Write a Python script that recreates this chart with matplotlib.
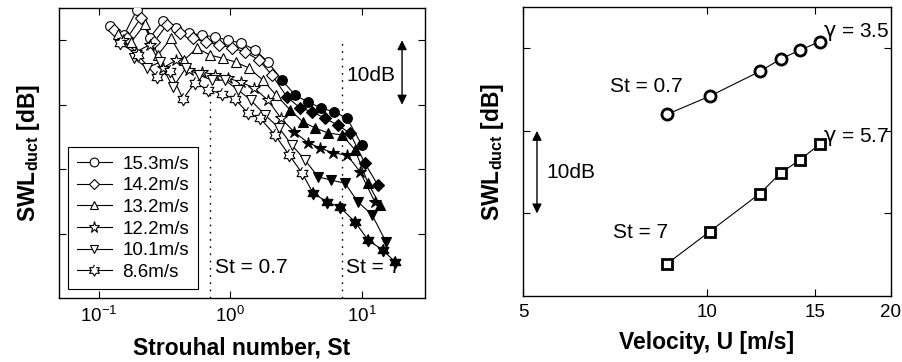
import numpy as np
import matplotlib
matplotlib.use("Agg")
import matplotlib.pyplot as plt
from matplotlib.lines import Line2D
from matplotlib.path import Path
from matplotlib.ticker import FixedLocator, NullLocator, NullFormatter, FixedFormatter

plt.rcParams['font.family'] = ['Liberation Sans', 'DejaVu Sans']
plt.rcParams['mathtext.fontset'] = 'custom'
plt.rcParams['mathtext.rm'] = 'Liberation Sans'
plt.rcParams['mathtext.bf'] = 'Liberation Sans:bold'
plt.rcParams['mathtext.it'] = 'DejaVu Sans'

# ---- left panel: SWL spectra vs Strouhal number, one series per velocity ----
labels = ['15.3m/s', '14.2m/s', '13.2m/s', '12.2m/s', '10.1m/s', '8.6m/s']

st_153 = [0.122, 0.156, 0.195, 0.245, 0.308, 0.386, 0.485, 0.609, 0.764, 0.959,
          1.20, 1.54, 1.93, 2.47, 3.09, 3.88, 4.88, 6.12, 7.68, 9.98]
db_153 = [42.2, 40.8, 44.7, 40.4, 43.0, 41.9, 41.1, 40.8, 40.5, 40.0,
          39.6, 38.5, 36.6, 33.8, 31.5, 30.4, 29.5, 28.9, 27.9, 23.7]

st_142 = [0.131, 0.164, 0.210, 0.263, 0.330, 0.414, 0.520, 0.653, 0.819, 1.03,
          1.29, 1.65, 2.07, 2.69, 3.38, 4.17, 5.23, 6.56, 8.09, 10.5, 13.2]
db_142 = [41.6, 40.3, 43.5, 39.7, 42.4, 41.1, 40.3, 39.7, 39.3, 38.8,
          38.2, 36.9, 34.6, 31.2, 29.5, 28.9, 27.9, 26.8, 25.6, 20.9, 17.5]

st_132 = [0.140, 0.176, 0.225, 0.282, 0.354, 0.444, 0.558, 0.700, 0.879, 1.10,
          1.38, 1.77, 2.22, 2.84, 3.56, 4.39, 5.51, 7.04, 8.83, 11.1, 13.7]
db_132 = [41.0, 39.7, 42.5, 37.7, 40.3, 36.9, 38.8, 37.7, 37.2, 36.6,
          35.7, 33.8, 31.5, 29.2, 27.3, 26.4, 25.6, 25.3, 23.0, 17.8, 14.4]

st_122 = [0.153, 0.192, 0.245, 0.308, 0.386, 0.485, 0.609, 0.764, 0.959, 1.20,
          1.51, 1.93, 2.42, 3.04, 3.88, 4.79, 6.01, 7.68, 9.64, 12.5]
db_122 = [40.0, 38.2, 39.3, 35.7, 36.9, 35.4, 35.1, 34.6, 34.1, 33.5,
          32.6, 30.7, 27.9, 25.8, 24.1, 23.3, 22.5, 22.2, 19.6, 14.9]

st_101 = [0.185, 0.233, 0.292, 0.367, 0.460, 0.578, 0.725, 0.910, 1.14, 1.43,
          1.83, 2.34, 2.94, 3.69, 4.63, 5.81, 7.42, 9.31, 11.9, 15.2]
db_101 = [37.2, 35.7, 36.6, 32.7, 35.7, 34.6, 33.8, 33.8, 32.3, 30.7,
          28.4, 26.4, 23.7, 21.4, 18.8, 18.3, 17.8, 14.9, 12.9, 8.7]

st_86 = [0.145, 0.199, 0.277, 0.348, 0.437, 0.538, 0.676, 0.863, 1.08, 1.36,
         1.68, 2.18, 2.79, 3.50, 4.24, 5.41, 6.79, 8.83, 11.1, 14.4, 17.8]
db_86 = [39.6, 37.7, 34.3, 35.2, 30.9, 33.4, 32.3, 31.7, 30.9, 28.7,
         27.9, 25.3, 22.2, 19.4, 16.3, 14.9, 14.1, 11.8, 9.0, 7.4, 5.6]

# index of first filled (solid) marker in each series
first_filled = [13, 13, 13, 13, 14, 14]

# ---- right panel: level at fixed St vs velocity ----
velocity = [8.6, 10.1, 12.2, 13.2, 14.2, 15.3]
swl_st07 = [22.0, 24.2, 27.2, 28.7, 29.8, 30.8]
swl_st7 = [3.9, 7.8, 12.4, 14.9, 16.5, 18.4]

# six pointed star marker (two triangles)
ang = np.pi / 2 + np.arange(12) * np.pi / 6
rad = np.where(np.arange(12) % 2 == 0, 1.0, 0.577)
hexagram = Path(np.column_stack([rad * np.cos(ang), rad * np.sin(ang)]), closed=False)

st_series = [st_153, st_142, st_132, st_122, st_101, st_86]
db_series = [db_153, db_142, db_132, db_122, db_101, db_86]
markers = ['o', 'D', '^', '*', 'v', hexagram]
msizes = [7, 6, 7, 9, 7, 9]

fig = plt.figure(figsize=(9.03, 3.62), dpi=100)
ax1 = fig.add_axes([0.0653, 0.1768, 0.4053, 0.8011])
ax2 = fig.add_axes([0.5792, 0.1823, 0.4075, 0.7983])

handles = []
for st, db, m, ms, k, lab in zip(st_series, db_series, markers, msizes, first_filled, labels):
    st = np.array(st)
    db = np.array(db)
    ax1.plot(st, db, color='k', lw=0.8, zorder=2)
    ax1.plot(st[:k], db[:k], ls='none', marker=m, ms=ms, mfc='white', mec='k', mew=0.8, zorder=3)
    ax1.plot(st[k:], db[k:], ls='none', marker=m, ms=ms, mfc='k', mec='k', mew=0.8, zorder=3)
    handles.append(Line2D([], [], color='k', lw=0.8, marker=m, ms=ms * 0.9, mfc='white', mec='k', mew=0.8, label=lab))

ax1.set_xscale('log')
ax1.set_xlim(0.05, 30)
ax1.set_ylim(0, 45)
ax1.set_xticks([0.1, 1, 10])
ax1.xaxis.set_minor_locator(NullLocator())
ax1.set_yticks([10, 20, 30, 40])
ax1.set_yticklabels([])
ax1.tick_params(direction='in', top=True, right=True, length=5, width=0.8, labelsize=13.5, pad=6)
ax1.set_xlabel('Strouhal number, St', fontsize=16.5, fontweight='bold', labelpad=7)
ax1.set_ylabel(r'SWL$_{\mathbf{duct}}$ [dB]', fontsize=16.5, fontweight='bold', labelpad=6)

ax1.plot([0.7, 0.7], [0, 35.7], color='k', lw=1, ls=(0, (1.2, 4)))
ax1.plot([7, 7], [0, 39.8], color='k', lw=1, ls=(0, (1.2, 4)))
ax1.text(0.76, 4.8, 'St = 0.7', fontsize=15, va='center', ha='left')
ax1.text(7.6, 4.8, 'St = 7', fontsize=15, va='center', ha='left')
ax1.text(7.6, 34.6, '10dB', fontsize=15, va='center', ha='left')
ax1.annotate('', xy=(20.1, 40), xytext=(20.1, 30),
             arrowprops=dict(arrowstyle='<|-|>', color='k', lw=1, mutation_scale=14, shrinkA=0, shrinkB=0))

leg = ax1.legend(handles=handles, loc='lower left', bbox_to_anchor=(0.025, 0.03), borderaxespad=0,
                 fontsize=13.5, handlelength=1.9, handletextpad=0.55, labelspacing=0.24,
                 borderpad=0.45, fancybox=False, framealpha=1, edgecolor='k')
leg.get_frame().set_linewidth(0.8)

# right panel
ax2.plot(velocity, swl_st07, color='k', lw=0.8, marker='o', ms=8, mfc='white', mec='k', mew=2)
ax2.plot(velocity, swl_st7, color='k', lw=0.8, marker='s', ms=6.5, mfc='white', mec='k', mew=2)
ax2.set_xscale('log')
ax2.set_xlim(5, 20)
ax2.set_ylim(0, 35)
ax2.xaxis.set_major_locator(FixedLocator([5, 10, 15, 20]))
ax2.xaxis.set_major_formatter(FixedFormatter(['5', '10', '15', '20']))
ax2.xaxis.set_minor_locator(NullLocator())
ax2.xaxis.set_minor_formatter(NullFormatter())
ax2.set_yticks([10, 20, 30])
ax2.set_yticklabels([])
ax2.tick_params(direction='in', top=True, right=True, length=5, width=0.8, labelsize=13.5, pad=6)
ax2.set_xlabel('Velocity, U [m/s]', fontsize=16.5, fontweight='bold', labelpad=7)
ax2.set_ylabel(r'SWL$_{\mathbf{duct}}$ [dB]', fontsize=16.5, fontweight='bold', labelpad=6)

ax2.text(6.94, 25.4, 'St = 0.7', fontsize=15, va='center', ha='left')
ax2.text(7.02, 7.75, 'St = 7', fontsize=15, va='center', ha='left')
ax2.text(15.5, 32.0, r'$\gamma$ = 3.5', fontsize=15, va='center', ha='left')
ax2.text(15.5, 19.25, r'$\gamma$ = 5.7', fontsize=15, va='center', ha='left')
ax2.text(5.47, 15.0, '10dB', fontsize=15, va='center', ha='left')
ax2.annotate('', xy=(5.27, 20), xytext=(5.27, 10),
             arrowprops=dict(arrowstyle='<|-|>', color='k', lw=1, mutation_scale=14, shrinkA=0, shrinkB=0))

for ax in (ax1, ax2):
    for s in ax.spines.values():
        s.set_linewidth(1)

fig.savefig('out.png', dpi=100)
